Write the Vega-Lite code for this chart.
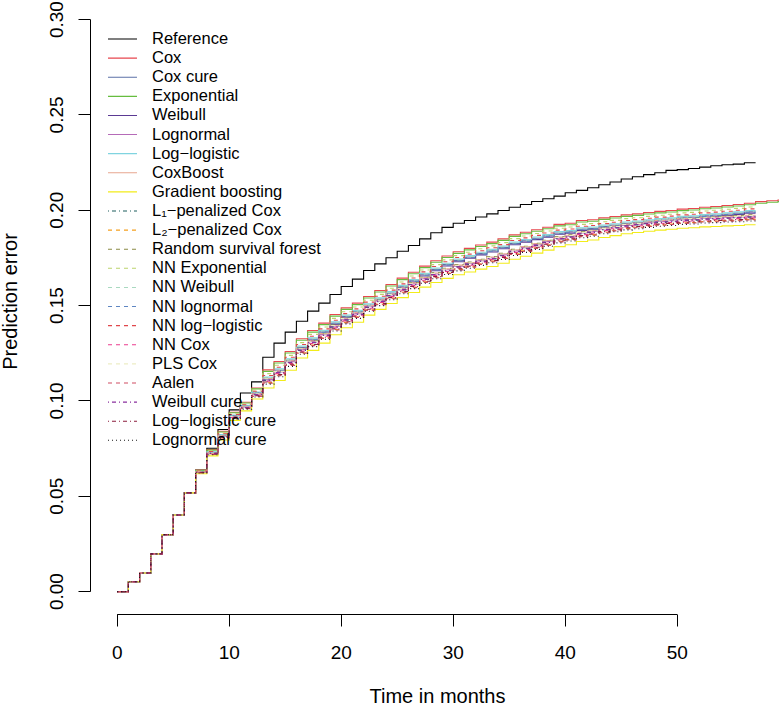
{
"$schema":"https://vega.github.io/schema/vega-lite/v6.json",
"width":694,"height":614,
"autosize":{"type":"none"},
"padding":{"left":90.5,"top":0.5,"right":0,"bottom":92},
"background":"white",
"config":{"view":{"stroke":null},"font":"Liberation Sans","axis":{"translate":0}},
"datasets":{
"names":[{"code":"a","method":"Reference"},{"code":"b","method":"Cox"},{"code":"c","method":"Cox cure"},{"code":"d","method":"Exponential"},{"code":"e","method":"Weibull"},{"code":"f","method":"Lognormal"},{"code":"g","method":"Log−logistic"},{"code":"h","method":"CoxBoost"},{"code":"i","method":"Gradient boosting"},{"code":"j","method":"L₁−penalized Cox"},{"code":"k","method":"L₂−penalized Cox"},{"code":"l","method":"Random survival forest"},{"code":"m","method":"NN Exponential"},{"code":"n","method":"NN Weibull"},{"code":"o","method":"NN lognormal"},{"code":"p","method":"NN log−logistic"},{"code":"q","method":"NN Cox"},{"code":"r","method":"PLS Cox"},{"code":"s","method":"Aalen"},{"code":"u","method":"Weibull cure"},{"code":"v","method":"Log−logistic cure"},{"code":"w","method":"Lognormal cure"}],
"curves":[
{"t":0,"a":0,"b":0,"c":0,"d":0,"e":0,"f":0,"g":0,"h":0,"i":0,"j":0,"k":0,"l":0,"m":0,"n":0,"o":0,"p":0,"q":0,"r":0,"s":0,"u":0,"v":0,"w":0},
{"t":1,"a":0.0052,"b":0.0052,"c":0.0052,"d":0.0052,"e":0.0052,"f":0.0052,"g":0.0052,"h":0.0052,"i":0.0052,"j":0.0052,"k":0.0052,"l":0.0052,"m":0.0052,"n":0.0052,"o":0.0052,"p":0.0052,"q":0.0052,"r":0.0052,"s":0.0052,"u":0.0052,"v":0.0052,"w":0.0052},
{"t":2,"a":0.0098,"b":0.0098,"c":0.0098,"d":0.0098,"e":0.0098,"f":0.0098,"g":0.0098,"h":0.0098,"i":0.0098,"j":0.0098,"k":0.0098,"l":0.0098,"m":0.0098,"n":0.0098,"o":0.0098,"p":0.0098,"q":0.0098,"r":0.0098,"s":0.0098,"u":0.0098,"v":0.0098,"w":0.0098},
{"t":3,"a":0.0198,"b":0.0198,"c":0.0198,"d":0.0198,"e":0.0198,"f":0.0198,"g":0.0198,"h":0.0198,"i":0.0198,"j":0.0198,"k":0.0198,"l":0.0198,"m":0.0198,"n":0.0198,"o":0.0198,"p":0.0198,"q":0.0198,"r":0.0198,"s":0.0198,"u":0.0198,"v":0.0198,"w":0.0198},
{"t":4,"a":0.0299,"b":0.0299,"c":0.0299,"d":0.0299,"e":0.0299,"f":0.0299,"g":0.0299,"h":0.0299,"i":0.0299,"j":0.0299,"k":0.0299,"l":0.0299,"m":0.0299,"n":0.0299,"o":0.0299,"p":0.0299,"q":0.0299,"r":0.0299,"s":0.0299,"u":0.0299,"v":0.0299,"w":0.0299},
{"t":5,"a":0.0402,"b":0.0402,"c":0.0402,"d":0.0402,"e":0.0402,"f":0.0402,"g":0.0402,"h":0.0402,"i":0.0402,"j":0.0402,"k":0.0402,"l":0.0402,"m":0.0402,"n":0.0402,"o":0.0402,"p":0.0402,"q":0.0402,"r":0.0402,"s":0.0402,"u":0.0402,"v":0.0402,"w":0.0402},
{"t":6,"a":0.0518,"b":0.0518,"c":0.0518,"d":0.0518,"e":0.0518,"f":0.0518,"g":0.0518,"h":0.0518,"i":0.0518,"j":0.0518,"k":0.0518,"l":0.0518,"m":0.0518,"n":0.0518,"o":0.0518,"p":0.0518,"q":0.0518,"r":0.0518,"s":0.0518,"u":0.0518,"v":0.0518,"w":0.0518},
{"t":7,"a":0.0638,"b":0.0638,"c":0.0629,"d":0.0636,"e":0.0628,"f":0.0627,"g":0.0631,"h":0.0628,"i":0.0618,"j":0.0626,"k":0.0623,"l":0.0628,"m":0.0634,"n":0.0630,"o":0.0629,"p":0.0632,"q":0.0625,"r":0.0627,"s":0.0623,"u":0.0626,"v":0.0624,"w":0.0622},
{"t":8,"a":0.0752,"b":0.0745,"c":0.0731,"d":0.0742,"e":0.0729,"f":0.0726,"g":0.0733,"h":0.0728,"i":0.0712,"j":0.0725,"k":0.0721,"l":0.0729,"m":0.0739,"n":0.0732,"o":0.0730,"p":0.0735,"q":0.0723,"r":0.0727,"s":0.0720,"u":0.0725,"v":0.0722,"w":0.0718},
{"t":9,"a":0.0850,"b":0.0841,"c":0.0821,"d":0.0837,"e":0.0818,"f":0.0815,"g":0.0824,"h":0.0817,"i":0.0795,"j":0.0812,"k":0.0807,"l":0.0819,"m":0.0832,"n":0.0823,"o":0.0820,"p":0.0828,"q":0.0811,"r":0.0816,"s":0.0806,"u":0.0813,"v":0.0809,"w":0.0804},
{"t":10,"a":0.0953,"b":0.0941,"c":0.0923,"d":0.0938,"e":0.0920,"f":0.0916,"g":0.0926,"h":0.0919,"i":0.0898,"j":0.0914,"k":0.0910,"l":0.0920,"m":0.0933,"n":0.0924,"o":0.0921,"p":0.0929,"q":0.0913,"r":0.0918,"s":0.0908,"u":0.0915,"v":0.0911,"w":0.0906},
{"t":11,"a":0.1042,"b":0.0993,"c":0.0974,"d":0.0989,"e":0.0971,"f":0.0967,"g":0.0977,"h":0.0970,"i":0.0948,"j":0.0965,"k":0.0960,"l":0.0971,"m":0.0984,"n":0.0975,"o":0.0972,"p":0.0980,"q":0.0963,"r":0.0969,"s":0.0959,"u":0.0966,"v":0.0962,"w":0.0957},
{"t":12,"a":0.1100,"b":0.1068,"c":0.1043,"d":0.1063,"e":0.1039,"f":0.1035,"g":0.1047,"h":0.1038,"i":0.1010,"j":0.1032,"k":0.1026,"l":0.1040,"m":0.1057,"n":0.1045,"o":0.1041,"p":0.1051,"q":0.1030,"r":0.1037,"s":0.1024,"u":0.1033,"v":0.1027,"w":0.1021},
{"t":13,"a":0.1229,"b":0.1163,"c":0.1118,"d":0.1155,"e":0.1111,"f":0.1113,"g":0.1125,"h":0.1118,"i":0.1068,"j":0.1108,"k":0.1096,"l":0.1120,"m":0.1143,"n":0.1121,"o":0.1115,"p":0.1133,"q":0.1104,"r":0.1116,"s":0.1093,"u":0.1110,"v":0.1099,"w":0.1088},
{"t":14,"a":0.1303,"b":0.1207,"c":0.1162,"d":0.1199,"e":0.1155,"f":0.1152,"g":0.1169,"h":0.1157,"i":0.1107,"j":0.1147,"k":0.1135,"l":0.1159,"m":0.1187,"n":0.1165,"o":0.1159,"p":0.1177,"q":0.1143,"r":0.1155,"s":0.1132,"u":0.1149,"v":0.1138,"w":0.1127},
{"t":15,"a":0.1361,"b":0.1259,"c":0.1214,"d":0.1251,"e":0.1207,"f":0.1206,"g":0.1221,"h":0.1211,"i":0.1161,"j":0.1201,"k":0.1189,"l":0.1213,"m":0.1239,"n":0.1217,"o":0.1211,"p":0.1229,"q":0.1197,"r":0.1209,"s":0.1186,"u":0.1203,"v":0.1192,"w":0.1181},
{"t":16,"a":0.1418,"b":0.1326,"c":0.1281,"d":0.1318,"e":0.1274,"f":0.1270,"g":0.1288,"h":0.1275,"i":0.1225,"j":0.1265,"k":0.1253,"l":0.1277,"m":0.1306,"n":0.1284,"o":0.1278,"p":0.1296,"q":0.1261,"r":0.1273,"s":0.1250,"u":0.1267,"v":0.1256,"w":0.1245},
{"t":17,"a":0.1471,"b":0.1369,"c":0.1324,"d":0.1361,"e":0.1317,"f":0.1310,"g":0.1331,"h":0.1315,"i":0.1265,"j":0.1305,"k":0.1293,"l":0.1317,"m":0.1349,"n":0.1327,"o":0.1321,"p":0.1339,"q":0.1301,"r":0.1313,"s":0.1290,"u":0.1307,"v":0.1296,"w":0.1285},
{"t":18,"a":0.1513,"b":0.1408,"c":0.1363,"d":0.1400,"e":0.1356,"f":0.1348,"g":0.1370,"h":0.1353,"i":0.1303,"j":0.1343,"k":0.1331,"l":0.1355,"m":0.1388,"n":0.1366,"o":0.1360,"p":0.1378,"q":0.1339,"r":0.1351,"s":0.1328,"u":0.1345,"v":0.1334,"w":0.1323},
{"t":19,"a":0.1558,"b":0.1453,"c":0.1408,"d":0.1445,"e":0.1401,"f":0.1392,"g":0.1415,"h":0.1397,"i":0.1347,"j":0.1387,"k":0.1375,"l":0.1399,"m":0.1433,"n":0.1411,"o":0.1405,"p":0.1423,"q":0.1383,"r":0.1395,"s":0.1372,"u":0.1389,"v":0.1378,"w":0.1367},
{"t":20,"a":0.1600,"b":0.1488,"c":0.1443,"d":0.1480,"e":0.1436,"f":0.1429,"g":0.1450,"h":0.1434,"i":0.1384,"j":0.1424,"k":0.1412,"l":0.1436,"m":0.1468,"n":0.1446,"o":0.1440,"p":0.1458,"q":0.1420,"r":0.1432,"s":0.1409,"u":0.1426,"v":0.1415,"w":0.1404},
{"t":21,"a":0.1639,"b":0.1513,"c":0.1468,"d":0.1505,"e":0.1461,"f":0.1458,"g":0.1475,"h":0.1463,"i":0.1413,"j":0.1453,"k":0.1441,"l":0.1465,"m":0.1493,"n":0.1471,"o":0.1465,"p":0.1483,"q":0.1449,"r":0.1461,"s":0.1438,"u":0.1455,"v":0.1444,"w":0.1433},
{"t":22,"a":0.1684,"b":0.1548,"c":0.1503,"d":0.1540,"e":0.1496,"f":0.1495,"g":0.1510,"h":0.1500,"i":0.1450,"j":0.1490,"k":0.1478,"l":0.1502,"m":0.1528,"n":0.1506,"o":0.1500,"p":0.1518,"q":0.1486,"r":0.1498,"s":0.1475,"u":0.1492,"v":0.1481,"w":0.1470},
{"t":23,"a":0.1719,"b":0.1579,"c":0.1534,"d":0.1571,"e":0.1527,"f":0.1525,"g":0.1541,"h":0.1530,"i":0.1480,"j":0.1520,"k":0.1508,"l":0.1532,"m":0.1559,"n":0.1537,"o":0.1531,"p":0.1549,"q":0.1516,"r":0.1528,"s":0.1505,"u":0.1522,"v":0.1511,"w":0.1500},
{"t":24,"a":0.1751,"b":0.1611,"c":0.1566,"d":0.1603,"e":0.1559,"f":0.1556,"g":0.1573,"h":0.1561,"i":0.1511,"j":0.1551,"k":0.1539,"l":0.1563,"m":0.1591,"n":0.1569,"o":0.1563,"p":0.1581,"q":0.1547,"r":0.1559,"s":0.1536,"u":0.1553,"v":0.1542,"w":0.1531},
{"t":25,"a":0.1785,"b":0.1644,"c":0.1599,"d":0.1636,"e":0.1592,"f":0.1587,"g":0.1606,"h":0.1592,"i":0.1542,"j":0.1582,"k":0.1570,"l":0.1594,"m":0.1624,"n":0.1602,"o":0.1596,"p":0.1614,"q":0.1578,"r":0.1590,"s":0.1567,"u":0.1584,"v":0.1573,"w":0.1562},
{"t":26,"a":0.1815,"b":0.1675,"c":0.1630,"d":0.1667,"e":0.1623,"f":0.1614,"g":0.1637,"h":0.1619,"i":0.1569,"j":0.1609,"k":0.1597,"l":0.1621,"m":0.1655,"n":0.1633,"o":0.1627,"p":0.1645,"q":0.1605,"r":0.1617,"s":0.1594,"u":0.1611,"v":0.1600,"w":0.1589},
{"t":27,"a":0.1850,"b":0.1707,"c":0.1662,"d":0.1699,"e":0.1655,"f":0.1642,"g":0.1669,"h":0.1647,"i":0.1597,"j":0.1637,"k":0.1625,"l":0.1649,"m":0.1687,"n":0.1665,"o":0.1659,"p":0.1677,"q":0.1633,"r":0.1645,"s":0.1622,"u":0.1639,"v":0.1628,"w":0.1617},
{"t":28,"a":0.1882,"b":0.1735,"c":0.1690,"d":0.1727,"e":0.1683,"f":0.1666,"g":0.1697,"h":0.1671,"i":0.1621,"j":0.1661,"k":0.1649,"l":0.1673,"m":0.1715,"n":0.1693,"o":0.1687,"p":0.1705,"q":0.1657,"r":0.1669,"s":0.1646,"u":0.1663,"v":0.1652,"w":0.1641},
{"t":29,"a":0.1910,"b":0.1760,"c":0.1715,"d":0.1752,"e":0.1708,"f":0.1688,"g":0.1722,"h":0.1693,"i":0.1643,"j":0.1683,"k":0.1671,"l":0.1695,"m":0.1740,"n":0.1718,"o":0.1712,"p":0.1730,"q":0.1679,"r":0.1691,"s":0.1668,"u":0.1685,"v":0.1674,"w":0.1663},
{"t":30,"a":0.1932,"b":0.1782,"c":0.1737,"d":0.1774,"e":0.1730,"f":0.1707,"g":0.1744,"h":0.1712,"i":0.1662,"j":0.1702,"k":0.1690,"l":0.1714,"m":0.1762,"n":0.1740,"o":0.1734,"p":0.1752,"q":0.1698,"r":0.1710,"s":0.1687,"u":0.1704,"v":0.1693,"w":0.1682},
{"t":31,"a":0.1946,"b":0.1800,"c":0.1755,"d":0.1792,"e":0.1748,"f":0.1721,"g":0.1762,"h":0.1726,"i":0.1676,"j":0.1716,"k":0.1704,"l":0.1728,"m":0.1780,"n":0.1758,"o":0.1752,"p":0.1770,"q":0.1712,"r":0.1724,"s":0.1701,"u":0.1718,"v":0.1707,"w":0.1696},
{"t":32,"a":0.1965,"b":0.1818,"c":0.1773,"d":0.1810,"e":0.1766,"f":0.1736,"g":0.1780,"h":0.1741,"i":0.1691,"j":0.1731,"k":0.1719,"l":0.1743,"m":0.1798,"n":0.1776,"o":0.1770,"p":0.1788,"q":0.1727,"r":0.1739,"s":0.1716,"u":0.1733,"v":0.1722,"w":0.1711},
{"t":33,"a":0.1981,"b":0.1833,"c":0.1788,"d":0.1825,"e":0.1781,"f":0.1750,"g":0.1795,"h":0.1755,"i":0.1705,"j":0.1745,"k":0.1733,"l":0.1757,"m":0.1813,"n":0.1791,"o":0.1785,"p":0.1803,"q":0.1741,"r":0.1753,"s":0.1730,"u":0.1747,"v":0.1736,"w":0.1725},
{"t":34,"a":0.1999,"b":0.1850,"c":0.1805,"d":0.1842,"e":0.1798,"f":0.1767,"g":0.1812,"h":0.1772,"i":0.1722,"j":0.1762,"k":0.1750,"l":0.1774,"m":0.1830,"n":0.1808,"o":0.1802,"p":0.1820,"q":0.1758,"r":0.1770,"s":0.1747,"u":0.1764,"v":0.1753,"w":0.1742},
{"t":35,"a":0.2016,"b":0.1871,"c":0.1826,"d":0.1863,"e":0.1819,"f":0.1788,"g":0.1833,"h":0.1793,"i":0.1743,"j":0.1783,"k":0.1771,"l":0.1795,"m":0.1851,"n":0.1829,"o":0.1823,"p":0.1841,"q":0.1779,"r":0.1791,"s":0.1768,"u":0.1785,"v":0.1774,"w":0.1763},
{"t":36,"a":0.2030,"b":0.1885,"c":0.1840,"d":0.1877,"e":0.1833,"f":0.1804,"g":0.1847,"h":0.1809,"i":0.1759,"j":0.1799,"k":0.1787,"l":0.1811,"m":0.1865,"n":0.1843,"o":0.1837,"p":0.1855,"q":0.1795,"r":0.1807,"s":0.1784,"u":0.1801,"v":0.1790,"w":0.1779},
{"t":37,"a":0.2046,"b":0.1898,"c":0.1853,"d":0.1890,"e":0.1846,"f":0.1820,"g":0.1860,"h":0.1825,"i":0.1775,"j":0.1815,"k":0.1803,"l":0.1827,"m":0.1878,"n":0.1856,"o":0.1850,"p":0.1868,"q":0.1811,"r":0.1823,"s":0.1800,"u":0.1817,"v":0.1806,"w":0.1795},
{"t":38,"a":0.2060,"b":0.1911,"c":0.1866,"d":0.1903,"e":0.1859,"f":0.1836,"g":0.1873,"h":0.1841,"i":0.1791,"j":0.1831,"k":0.1819,"l":0.1843,"m":0.1891,"n":0.1869,"o":0.1863,"p":0.1881,"q":0.1827,"r":0.1839,"s":0.1816,"u":0.1833,"v":0.1822,"w":0.1811},
{"t":39,"a":0.2074,"b":0.1926,"c":0.1881,"d":0.1918,"e":0.1874,"f":0.1854,"g":0.1888,"h":0.1859,"i":0.1809,"j":0.1849,"k":0.1837,"l":0.1861,"m":0.1906,"n":0.1884,"o":0.1878,"p":0.1896,"q":0.1845,"r":0.1857,"s":0.1834,"u":0.1851,"v":0.1840,"w":0.1829},
{"t":40,"a":0.2092,"b":0.1932,"c":0.1887,"d":0.1924,"e":0.1880,"f":0.1864,"g":0.1894,"h":0.1869,"i":0.1819,"j":0.1859,"k":0.1847,"l":0.1871,"m":0.1912,"n":0.1890,"o":0.1884,"p":0.1902,"q":0.1855,"r":0.1867,"s":0.1844,"u":0.1861,"v":0.1850,"w":0.1839},
{"t":41,"a":0.2104,"b":0.1946,"c":0.1901,"d":0.1938,"e":0.1894,"f":0.1881,"g":0.1908,"h":0.1886,"i":0.1836,"j":0.1876,"k":0.1864,"l":0.1888,"m":0.1926,"n":0.1904,"o":0.1898,"p":0.1916,"q":0.1872,"r":0.1884,"s":0.1861,"u":0.1878,"v":0.1867,"w":0.1856},
{"t":42,"a":0.2118,"b":0.1950,"c":0.1905,"d":0.1942,"e":0.1898,"f":0.1889,"g":0.1912,"h":0.1894,"i":0.1844,"j":0.1884,"k":0.1872,"l":0.1896,"m":0.1930,"n":0.1908,"o":0.1902,"p":0.1920,"q":0.1880,"r":0.1892,"s":0.1869,"u":0.1886,"v":0.1875,"w":0.1864},
{"t":43,"a":0.2134,"b":0.1960,"c":0.1915,"d":0.1952,"e":0.1908,"f":0.1902,"g":0.1922,"h":0.1907,"i":0.1857,"j":0.1897,"k":0.1885,"l":0.1909,"m":0.1940,"n":0.1918,"o":0.1912,"p":0.1930,"q":0.1893,"r":0.1905,"s":0.1882,"u":0.1899,"v":0.1888,"w":0.1877},
{"t":44,"a":0.2148,"b":0.1967,"c":0.1922,"d":0.1959,"e":0.1915,"f":0.1912,"g":0.1929,"h":0.1917,"i":0.1867,"j":0.1907,"k":0.1895,"l":0.1919,"m":0.1947,"n":0.1925,"o":0.1919,"p":0.1937,"q":0.1903,"r":0.1915,"s":0.1892,"u":0.1909,"v":0.1898,"w":0.1887},
{"t":45,"a":0.2164,"b":0.1976,"c":0.1931,"d":0.1968,"e":0.1924,"f":0.1922,"g":0.1938,"h":0.1927,"i":0.1877,"j":0.1917,"k":0.1905,"l":0.1929,"m":0.1956,"n":0.1934,"o":0.1928,"p":0.1946,"q":0.1913,"r":0.1925,"s":0.1902,"u":0.1919,"v":0.1908,"w":0.1897},
{"t":46,"a":0.2176,"b":0.1981,"c":0.1936,"d":0.1973,"e":0.1929,"f":0.1928,"g":0.1943,"h":0.1933,"i":0.1883,"j":0.1923,"k":0.1911,"l":0.1935,"m":0.1961,"n":0.1939,"o":0.1933,"p":0.1951,"q":0.1919,"r":0.1931,"s":0.1908,"u":0.1925,"v":0.1914,"w":0.1903},
{"t":47,"a":0.2187,"b":0.1988,"c":0.1943,"d":0.1980,"e":0.1936,"f":0.1935,"g":0.1950,"h":0.1940,"i":0.1890,"j":0.1930,"k":0.1918,"l":0.1942,"m":0.1968,"n":0.1946,"o":0.1940,"p":0.1958,"q":0.1926,"r":0.1938,"s":0.1915,"u":0.1932,"v":0.1921,"w":0.1910},
{"t":48,"a":0.2197,"b":0.1994,"c":0.1949,"d":0.1986,"e":0.1942,"f":0.1941,"g":0.1956,"h":0.1946,"i":0.1896,"j":0.1936,"k":0.1924,"l":0.1948,"m":0.1974,"n":0.1952,"o":0.1946,"p":0.1964,"q":0.1932,"r":0.1944,"s":0.1921,"u":0.1938,"v":0.1927,"w":0.1916},
{"t":49,"a":0.2209,"b":0.1999,"c":0.1954,"d":0.1991,"e":0.1947,"f":0.1945,"g":0.1961,"h":0.1950,"i":0.1900,"j":0.1940,"k":0.1928,"l":0.1952,"m":0.1979,"n":0.1957,"o":0.1951,"p":0.1969,"q":0.1936,"r":0.1948,"s":0.1925,"u":0.1942,"v":0.1931,"w":0.1920},
{"t":50,"a":0.2213,"b":0.2006,"c":0.1961,"d":0.1998,"e":0.1954,"f":0.1951,"g":0.1968,"h":0.1956,"i":0.1906,"j":0.1946,"k":0.1934,"l":0.1958,"m":0.1986,"n":0.1964,"o":0.1958,"p":0.1976,"q":0.1942,"r":0.1954,"s":0.1931,"u":0.1948,"v":0.1937,"w":0.1926},
{"t":51,"a":0.2219,"b":0.2009,"c":0.1964,"d":0.2001,"e":0.1957,"f":0.1953,"g":0.1971,"h":0.1958,"i":0.1908,"j":0.1948,"k":0.1936,"l":0.1960,"m":0.1989,"n":0.1967,"o":0.1961,"p":0.1979,"q":0.1944,"r":0.1956,"s":0.1933,"u":0.1950,"v":0.1939,"w":0.1928},
{"t":52,"a":0.2226,"b":0.2016,"c":0.1971,"d":0.2008,"e":0.1964,"f":0.1958,"g":0.1978,"h":0.1963,"i":0.1913,"j":0.1953,"k":0.1941,"l":0.1965,"m":0.1996,"n":0.1974,"o":0.1968,"p":0.1986,"q":0.1949,"r":0.1961,"s":0.1938,"u":0.1955,"v":0.1944,"w":0.1933},
{"t":53,"a":0.2233,"b":0.2020,"c":0.1975,"d":0.2012,"e":0.1968,"f":0.1960,"g":0.1982,"h":0.1965,"i":0.1915,"j":0.1955,"k":0.1943,"l":0.1967,"m":0.2000,"n":0.1978,"o":0.1972,"p":0.1990,"q":0.1951,"r":0.1963,"s":0.1940,"u":0.1957,"v":0.1946,"w":0.1935},
{"t":54,"a":0.2239,"b":0.2025,"c":0.1980,"d":0.2017,"e":0.1973,"f":0.1963,"g":0.1987,"h":0.1968,"i":0.1918,"j":0.1958,"k":0.1946,"l":0.1970,"m":0.2005,"n":0.1983,"o":0.1977,"p":0.1995,"q":0.1954,"r":0.1966,"s":0.1943,"u":0.1960,"v":0.1949,"w":0.1938},
{"t":55,"a":0.2242,"b":0.2030,"c":0.1985,"d":0.2022,"e":0.1978,"f":0.1965,"g":0.1992,"h":0.1970,"i":0.1920,"j":0.1960,"k":0.1948,"l":0.1972,"m":0.2010,"n":0.1988,"o":0.1982,"p":0.2000,"q":0.1956,"r":0.1968,"s":0.1945,"u":0.1962,"v":0.1951,"w":0.1940},
{"t":56,"a":0.2249,"b":0.2037,"c":0.1992,"d":0.2029,"e":0.1985,"f":0.1969,"g":0.1999,"h":0.1974,"i":0.1924,"j":0.1964,"k":0.1952,"l":0.1976,"m":0.2017,"n":0.1995,"o":0.1989,"p":0.2007,"q":0.1960,"r":0.1972,"s":0.1949,"u":0.1966,"v":0.1955,"w":0.1944},
{"t":57,"a":0.2249,"b":0.2045,"c":0.1992,"d":0.2037,"e":0.1985,"f":0.1969,"g":0.1999,"h":0.1974,"i":0.1924,"j":0.1964,"k":0.1952,"l":0.1976,"m":0.2017,"n":0.1995,"o":0.1989,"p":0.2007,"q":0.1960,"r":0.1972,"s":0.1949,"u":0.1966,"v":0.1955,"w":0.1944},
{"t":58,"b":0.2050,"d":0.2042},
{"t":59,"b":0.2054,"d":0.2046},
{"t":60,"b":0.2058,"d":0.2050}
]},
"layer":[
{"data":{"name":"curves"},
"transform":[
{"fold":["a","b","c","d","e","f","g","h","i","j","k","l","m","n","o","p","q","r","s","u","v","w"],"as":["code","e"]},
{"lookup":"code","from":{"data":{"name":"names"},"key":"code","fields":["method"]}}
],
"mark":{"type":"line","interpolate":"step-after","strokeWidth":1.1,"clip":true},
"encoding":{
"x":{"field":"t","type":"quantitative","scale":{"domain":[-2.384,59.58],"nice":false,"zero":false},
"axis":{"values":[0,10,20,30,40,50],"domain":false,"grid":false,"tickSize":12,"tickColor":"black","labelFontSize":19,"labelColor":"black","labelFont":"Liberation Sans","labelBaseline":"alphabetic","labelPadding":32,"labelFlush":false,"title":"Time in months","titleFontSize":20,"titleFontWeight":"normal","titleColor":"black","titleFont":"Liberation Sans","titleBaseline":"alphabetic","titleY":88}},
"y":{"field":"e","type":"quantitative","scale":{"domain":[-0.012,0.31],"nice":false,"zero":false},
"axis":{"values":[0,0.05,0.1,0.15,0.2,0.25,0.3],"format":".2f","domain":false,"grid":false,"tickSize":12,"tickColor":"black","labelFontSize":19,"labelColor":"black","labelFont":"Liberation Sans","labelAngle":-90,"labelAlign":"center","labelBaseline":"alphabetic","labelPadding":16,"labelFlush":false,"title":"Prediction error","titleFontSize":20,"titleFontWeight":"normal","titleColor":"black","titleFont":"Liberation Sans","titleAngle":-90,"titleAlign":"center","titleBaseline":"alphabetic","titleX":-74,"titleY":301}},
"color":{"field":"method","type":"nominal",
"scale":{"domain":["Reference","Cox","Cox cure","Exponential","Weibull","Lognormal","Log−logistic","CoxBoost","Gradient boosting","L₁−penalized Cox","L₂−penalized Cox","Random survival forest","NN Exponential","NN Weibull","NN lognormal","NN log−logistic","NN Cox","PLS Cox","Aalen","Weibull cure","Log−logistic cure","Lognormal cure"],
"range":["#000000","#E8474F","#5C72A8","#66BD3F","#5B3A93","#B56BB8","#80D4E0","#E8A690","#F2EC1B","#1F5F5F","#F5A01E","#8A8A45","#BCD36C","#A9D9C0","#5F86C2","#E0474B","#EC3C8E","#EDEDC5","#CF4C63","#8B319F","#8C1D3C","#1A1A1A"]},
"legend":{"orient":"none","legendX":23.75,"legendY":30.25,"direction":"vertical","columns":1,"title":null,"symbolType":"M-3,0H3","symbolSize":93.4,"symbolStrokeWidth":1.1,"labelFontSize":16.5,"labelFont":"Liberation Sans","labelColor":"black","rowPadding":2.11,"labelOffset":21.25,"padding":0,"labelLimit":0}},
"strokeDash":{"field":"method","type":"nominal",
"scale":{"domain":["Reference","Cox","Cox cure","Exponential","Weibull","Lognormal","Log−logistic","CoxBoost","Gradient boosting","L₁−penalized Cox","L₂−penalized Cox","Random survival forest","NN Exponential","NN Weibull","NN lognormal","NN log−logistic","NN Cox","PLS Cox","Aalen","Weibull cure","Log−logistic cure","Lognormal cure"],
"range":[[1,0],[1,0],[1,0],[1,0],[1,0],[1,0],[1,0],[1,0],[1,0],[1,3,4,3],[4,4],[4,4],[4,4],[4,4],[4,4],[4,4],[4,4],[4,4],[4,4],[1,3,4,3],[1,3,4,3],[1,3]]},
"legend":{"orient":"none","legendX":23.75,"legendY":30.25,"direction":"vertical","columns":1,"title":null,"symbolType":"M-3,0H3","symbolSize":93.4,"symbolStrokeWidth":1.1,"labelFontSize":16.5,"labelFont":"Liberation Sans","labelColor":"black","rowPadding":2.11,"labelOffset":21.25,"padding":0,"labelLimit":0}}
}},
{"data":{"values":[{}]},
"mark":{"type":"rule","color":"black","strokeWidth":1},
"encoding":{"x":{"datum":0},"x2":{"datum":50},"y":{"datum":-0.012}}},
{"data":{"values":[{}]},
"mark":{"type":"rule","color":"black","strokeWidth":1},
"encoding":{"y":{"datum":0},"y2":{"datum":0.3},"x":{"datum":-2.384}}}
]
}
